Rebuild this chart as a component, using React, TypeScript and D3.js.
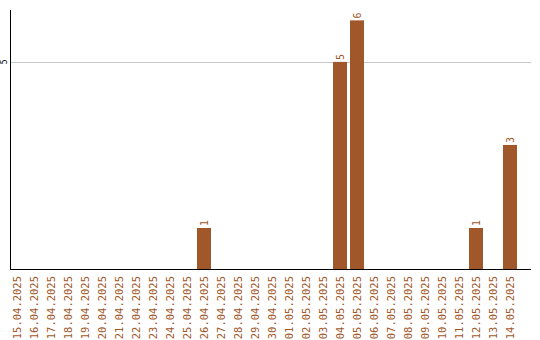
import React from "react";
import * as d3 from "d3";

const dates = [
  "15.04.2025", "16.04.2025", "17.04.2025", "18.04.2025", "19.04.2025",
  "20.04.2025", "21.04.2025", "22.04.2025", "23.04.2025", "24.04.2025",
  "25.04.2025", "26.04.2025", "27.04.2025", "28.04.2025", "29.04.2025",
  "30.04.2025", "01.05.2025", "02.05.2025", "03.05.2025", "04.05.2025",
  "05.05.2025", "06.05.2025", "07.05.2025", "08.05.2025", "09.05.2025",
  "10.05.2025", "11.05.2025", "12.05.2025", "13.05.2025", "14.05.2025",
];
const counts = [
  0, 0, 0, 0, 0, 0, 0, 0, 0, 0,
  0, 1, 0, 0, 0, 0, 0, 0, 0, 5,
  6, 0, 0, 0, 0, 0, 0, 1, 0, 3,
];
const yTicks = [5];

const W = 540;
const H = 340;
const BAR = "#a0572a";
const TXT = "#a0572a";
const MONO = "'DejaVu Sans Mono', 'Liberation Mono', monospace";

export default function App() {
  const x = d3.scaleBand<string>().domain(dates).range([8.5, 518.5]).paddingInner(3 / 17).paddingOuter(1.5 / 17);
  const y = d3.scaleLinear().domain([0, 6.25]).range([269.5, 10]);
  const axisLeft = 10.5;
  const axisRight = 531;

  return (
    <svg width={W} height={H} style={{ position: "absolute", left: 0, top: 0, background: "#fff" }}>
      {yTicks.map((t) => (
        <g key={t}>
          <line x1={axisLeft} x2={axisRight} y1={Math.round(y(t)) + 0.5} y2={Math.round(y(t)) + 0.5} stroke="#c8c8c8" strokeWidth={1} />
          <text
            transform={`translate(4,${y(t)}) rotate(-90)`}
            textAnchor="middle"
            dy="0.35em"
            fontFamily={MONO}
            fontSize={8}
            fill="#000"
          >
            {t}
          </text>
        </g>
      ))}
      {dates.map((d, i) =>
        counts[i] > 0 ? (
          <g key={d}>
            <rect x={x(d)} y={y(counts[i])} width={x.bandwidth()} height={y(0) - y(counts[i])} fill={BAR} />
            <text
              transform={`translate(${(x(d) as number) + x.bandwidth() / 2},${y(counts[i]) - 2}) rotate(-90)`}
              textAnchor="start"
              dy="0.35em"
              fontFamily={MONO}
              fontSize={10}
              fill={TXT}
            >
              {counts[i]}
            </text>
          </g>
        ) : null
      )}
      <line x1={axisLeft} x2={axisLeft} y1={10} y2={270} stroke="#000" strokeWidth={1} />
      <line x1={axisLeft} x2={axisRight} y1={269.5} y2={269.5} stroke="#000" strokeWidth={1} />
      {dates.map((d) => (
        <text
          key={"l" + d}
          transform={`translate(${(x(d) as number) + x.bandwidth() / 2},276) rotate(-90)`}
          textAnchor="end"
          dy="0.35em"
          fontFamily={MONO}
          fontSize={10.5}
          fill={TXT}
        >
          {d}
        </text>
      ))}
    </svg>
  );
}
